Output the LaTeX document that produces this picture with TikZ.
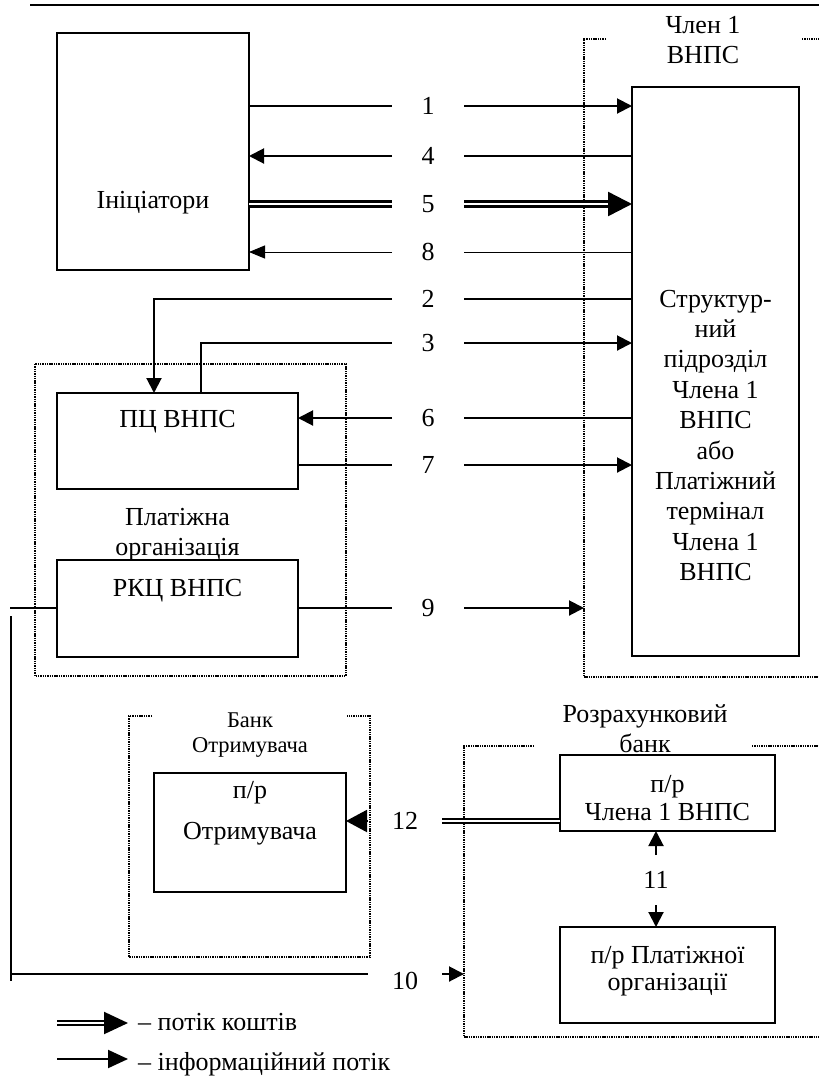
\documentclass[tikz,border=0pt]{standalone}
\usepackage{fontspec}
\setmainfont{Liberation Serif}
\usetikzlibrary{arrows.meta,calc}
\begin{document}
\begin{tikzpicture}[x=1pt,y=-1pt,
  box/.style={draw,line width=2pt,inner sep=0pt,outer sep=0pt,anchor=north west},
  dotl/.style={line width=1.7pt,dash pattern=on 1.4pt off 0.9pt},
  txt/.style={font=\fontsize{26}{30}\selectfont,inner sep=0pt,anchor=base},
  stxt/.style={font=\fontsize{22.5}{26}\selectfont,inner sep=0pt,anchor=base},
  lab/.style={font=\fontsize{26}{30}\selectfont,inner sep=0pt,outer sep=0pt,minimum width=72pt},
  ln/.style={line width=2pt},
  thinln/.style={line width=1pt},
  arr/.style={line width=2pt,-{Triangle[length=15pt,width=15pt]}},
  thinarr/.style={line width=1pt,-{Triangle[length=16pt,width=13pt]}},
  dbl/.style={double,line width=2.5pt,double distance=2.5pt},
  dbls/.style={double,line width=2pt,double distance=2pt},
]
\useasboundingbox (0,0) rectangle (819,1080);
\fill[white] (0,0) rectangle (819,1080);

% top rule
\draw[ln] (30,5) -- (819,5);

% boxes
\node[box,minimum width=192pt,minimum height=237pt] (ini) at (57,33) {};
\node[box,minimum width=167pt,minimum height=569pt] (sb) at (632,87) {};
\node[box,minimum width=241pt,minimum height=96pt] (pc) at (57,393) {};
\node[box,minimum width=241pt,minimum height=97pt] (rkc) at (57,560) {};
\node[box,minimum width=192pt,minimum height=119pt] (po) at (154,773) {};
\node[box,minimum width=215pt,minimum height=76pt] (pm) at (560,755) {};
\node[box,minimum width=215pt,minimum height=96pt] (pp) at (560,927) {};

% dotted groups
\draw[dotl] (606,39) -- (584,39) -- (584,677) -- (819,677);
\draw[dotl] (802,39) -- (819,39);
\draw[dotl] (35,364) rectangle (346,676);
\draw[dotl] (152,716) -- (129,716) -- (129,957) -- (370,957) -- (370,716) -- (347,716);
\draw[dotl] (534,746) -- (464,746) -- (464,1037) -- (819,1037);
\draw[dotl] (752,746) -- (819,746);

% texts
\node[txt] at (703,33) {Член 1};
\node[txt] at (703,63) {ВНПС};
\node[txt] at (153,208) {Ініціатори};
\foreach \t [count=\i] in {Структур-,ний,підрозділ,Члена 1,ВНПС,або,Платіжний,термінал,Члена 1,ВНПС}
  \node[txt] at ({715.5},{307+(\i-1)*30.4}) {\t};
\node[txt] at (177.5,427) {ПЦ ВНПС};
\node[txt] at (177.5,525) {Платіжна};
\node[txt] at (177.5,555) {організація};
\node[txt] at (177.5,596) {РКЦ ВНПС};
\node[stxt] at (250,727) {Банк};
\node[stxt] at (250,752) {Отримувача};
\node[txt] at (645,722) {Розрахунковий};
\node[txt] at (645,752) {банк};
\node[txt] at (250,798) {п/р};
\node[txt] at (250,839) {Отримувача};
\node[txt] at (667.5,792) {п/р};
\node[txt] at (667.5,820) {Члена 1 ВНПС};
\node[txt] at (667.5,963) {п/р Платіжної};
\node[txt] at (667.5,990) {організації};

% labels
\node[lab] (l1) at (428,106) {1};
\node[lab] (l4) at (428,156) {4};
\node[lab] (l5) at (428,204) {5};
\node[lab] (l8) at (428,252) {8};
\node[lab] (l2) at (428,299) {2};
\node[lab] (l3) at (428,343) {3};
\node[lab] (l6) at (428,418) {6};
\node[lab] (l7) at (428,465) {7};
\node[lab] (l9) at (428,608) {9};
\node[lab,minimum width=74pt] (l12) at (405,821) {12};
\node[lab,minimum width=74pt] (l10) at (405,981) {10};
\node[lab,minimum width=0pt,minimum height=50pt] (l11) at (656,880) {11};

% connectors
\draw[ln] (ini.east|-l1) -- (l1.west);
\draw[arr] (l1.east) -- (sb.west|-l1);
\draw[arr] (l4.west) -- (ini.east|-l4);
\draw[ln] (sb.west|-l4) -- (l4.east);
\draw[dbl] (ini.east|-l5) -- (l5.west);
\draw[dbl,-{Triangle[length=24pt,width=24pt]}] (l5.east) -- (sb.west|-l5);
\draw[thinarr] (l8.west) -- (ini.east|-l8);
\draw[thinln] (sb.west|-l8) -- (l8.east);
\draw[ln] (sb.west|-l2) -- (l2.east);
\draw[arr] (l2.west) -| ($(pc.north)+(-23.5,0)$);
\draw[ln] ($(pc.north)+(23.5,0)$) |- (l3.west);
\draw[arr] (l3.east) -- (sb.west|-l3);
\draw[arr] (l6.west) -- (pc.east|-l6);
\draw[ln] (sb.west|-l6) -- (l6.east);
\draw[ln] (pc.east|-l7) -- (l7.west);
\draw[arr] (l7.east) -- (sb.west|-l7);
\coordinate (c9) at (584,608);
\draw[ln] (rkc.east|-l9) -- (l9.west);
\draw[arr] (l9.east) -- (c9);
\coordinate (cl1) at (10,608);
\draw[ln] (rkc.west|-l9) -- (cl1);
\coordinate (cl2) at (11,616);
\coordinate (cl3) at (11,981);
\draw[ln] (cl2) -- (cl3);
\coordinate (c10a) at (10,974);
\coordinate (c10b) at (464,974);
\draw[ln] (c10a) -- (l10.west|-c10a);
\draw[arr] (l10.east|-c10a) -- (c10b);
\draw[dbls] (pm.west|-l12) -- (l12.east);
\draw[line width=2pt,-{Triangle[length=21pt,width=22pt]}] (l12.west) -- (po.east|-l12);
\draw[arr] (l11.north) -- (l11.north|-pm.south);
\draw[arr] (l11.south) -- (l11.south|-pp.north);

% legend
\coordinate (lg1a) at (57,1023);
\coordinate (lg1b) at (128,1023);
\coordinate (lg2a) at (57,1059);
\coordinate (lg2b) at (128,1059);
\draw[dbls,-{Triangle[length=24pt,width=22pt]}] (lg1a) -- (lg1b);
\draw[line width=2pt,-{Triangle[length=20pt,width=18pt]}] (lg2a) -- (lg2b);
\node[txt,anchor=base west] at (138,1030) {– потік коштів};
\node[txt,anchor=base west] at (138,1070) {– інформаційний потік};
\end{tikzpicture}
\end{document}
